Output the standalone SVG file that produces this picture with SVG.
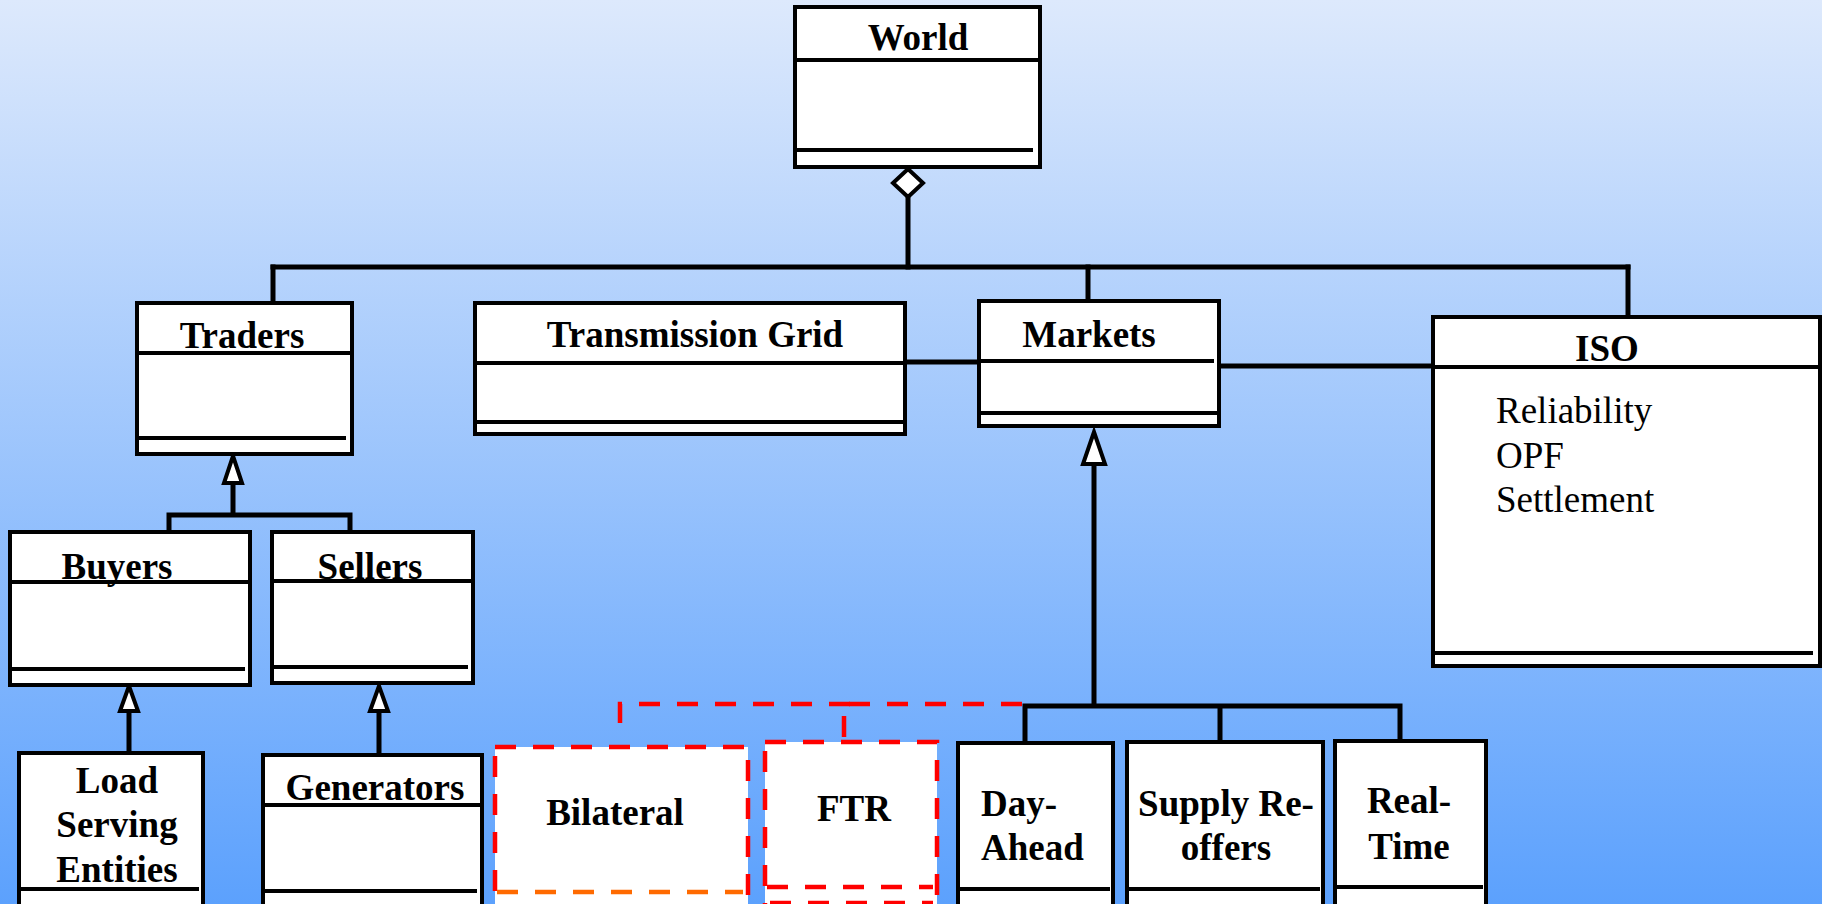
<svg xmlns="http://www.w3.org/2000/svg" width="1822" height="904" viewBox="0 0 1822 904">
  <defs>
    <linearGradient id="bg" x1="0" y1="0" x2="0" y2="1">
      <stop offset="0" stop-color="#dde9fc"/>
      <stop offset="1" stop-color="#5ca1fd"/>
    </linearGradient>
  </defs>
  <style>
    .box { fill: #ffffff; stroke: #000000; stroke-width: 4; }
    .sep { fill: none; stroke: #000000; stroke-width: 4; }
    .dbox { fill: #ffffff; stroke: #ff0000; stroke-width: 4.5; stroke-dasharray: 21 17; }
    .dsep { fill: none; stroke: #ff0000; stroke-width: 4.5; stroke-dasharray: 21 17; }
    .osep { fill: none; stroke: #ff6a00; stroke-width: 4.5; stroke-dasharray: 21 17; }
    .title { font-family: "Liberation Serif", "Times New Roman", serif; font-weight: bold; font-size: 37px; fill: #000000; }
    .attr { font-family: "Liberation Serif", "Times New Roman", serif; font-size: 37px; fill: #000000; }
    .c { text-anchor: middle; }
    .wire { fill: none; stroke: #000000; stroke-width: 5; stroke-linecap: square; }
    .head { fill: #ffffff; stroke: #000000; stroke-width: 4; stroke-linejoin: miter; }
    .rwire { fill: none; stroke: #ff0000; stroke-width: 4.5; stroke-dasharray: 21 17; }
  </style>

  <rect x="0" y="0" width="1822" height="904" fill="url(#bg)"/>

  <!-- connectors -->
  <g id="connectors">
    <!-- aggregation from World -->
    <path class="wire" d="M908,197 V267"/>
    <path class="wire" d="M273,267 H1628"/>
    <path class="wire" d="M273,267 V302"/>
    <path class="wire" d="M1088,267 V300"/>
    <path class="wire" d="M1628,267 V316"/>
    <polygon class="head" points="908,169 923,183 908,197 893,183"/>
    <!-- associations -->
    <path class="wire" d="M905,362 H979"/>
    <path class="wire" d="M1219,366 H1433"/>
    <!-- Traders generalization -->
    <path class="wire" d="M233,483 V515 M169,515 H350 M169,515 V531 M350,515 V531"/>
    <polygon class="head" points="233,456 242,483 224,483"/>
    <!-- Buyers / Sellers generalization -->
    <path class="wire" d="M129,711 V752"/>
    <polygon class="head" points="129,686 138,711 120,711"/>
    <path class="wire" d="M379,711 V754"/>
    <polygon class="head" points="379,686 388,711 370,711"/>
    <!-- Markets generalization -->
    <path class="wire" d="M1094,464 V706 M1025,706 H1400 M1025,706 V742 M1220,706 V741 M1400,706 V740"/>
    <polygon class="head" points="1094,432 1105,464 1083,464"/>
    <!-- optional market links -->
    <path class="rwire" d="M620,723 V704 H850"/>
    <path class="rwire" d="M844,737 V704 H1025"/>
  </g>

  <g id="world">
    <rect class="box" x="795" y="7" width="245" height="160"/>
    <path class="sep" d="M795,60 H1040 M795,150 H1033"/>
    <text class="title c" x="918" y="50">World</text>
  </g>

  <g id="traders">
    <rect class="box" x="137" y="303" width="215" height="151"/>
    <path class="sep" d="M137,353 H352 M137,438 H346"/>
    <text class="title c" x="242" y="348">Traders</text>
  </g>

  <g id="transmission-grid">
    <rect class="box" x="475" y="303" width="430" height="131"/>
    <path class="sep" d="M475,363 H905 M475,422 H905"/>
    <text class="title c" x="695" y="347">Transmission Grid</text>
  </g>

  <g id="markets">
    <rect class="box" x="979" y="301" width="240" height="125"/>
    <path class="sep" d="M979,361 H1214 M979,413 H1219"/>
    <text class="title c" x="1089" y="347">Markets</text>
  </g>

  <g id="iso">
    <rect class="box" x="1433" y="317" width="387" height="349"/>
    <path class="sep" d="M1433,367 H1820 M1433,653 H1813"/>
    <text class="title c" x="1607" y="361">ISO</text>
    <text class="attr" x="1496" y="423">Reliability</text>
    <text class="attr" x="1496" y="468">OPF</text>
    <text class="attr" x="1496" y="512">Settlement</text>
  </g>

  <g id="buyers">
    <rect class="box" x="10" y="532" width="240" height="153"/>
    <path class="sep" d="M10,582 H250 M10,669 H245"/>
    <text class="title c" x="117" y="579">Buyers</text>
  </g>

  <g id="sellers">
    <rect class="box" x="272" y="532" width="201" height="151"/>
    <path class="sep" d="M272,581 H473 M272,667 H468"/>
    <text class="title c" x="370" y="579">Sellers</text>
  </g>

  <g id="load-serving-entities">
    <rect class="box" x="19" y="753" width="184" height="170"/>
    <path class="sep" d="M19,889 H199"/>
    <text class="title c" x="117" y="793">Load</text>
    <text class="title c" x="117" y="837">Serving</text>
    <text class="title c" x="117" y="882">Entities</text>
  </g>

  <g id="generators">
    <rect class="box" x="263" y="755" width="219" height="170"/>
    <path class="sep" d="M263,805 H482 M263,891 H477"/>
    <text class="title c" x="375" y="800">Generators</text>
  </g>

  <g id="bilateral">
    <rect class="dbox" x="495" y="747" width="253" height="180"/>
    <path class="osep" d="M497,892 H743"/>
    <text class="title c" x="615" y="825">Bilateral</text>
  </g>

  <g id="ftr">
    <rect class="dbox" x="765" y="742" width="172" height="185"/>
    <path class="dsep" d="M767,887 H933 M770,903 H933"/>
    <text class="title c" x="854" y="821">FTR</text>
  </g>

  <g id="day-ahead">
    <rect class="box" x="958" y="743" width="155" height="180"/>
    <path class="sep" d="M958,889 H1110"/>
    <text class="title" x="981" y="816">Day-</text>
    <text class="title" x="981" y="860">Ahead</text>
  </g>

  <g id="supply-reoffers">
    <rect class="box" x="1127" y="742" width="196" height="180"/>
    <path class="sep" d="M1127,889 H1320"/>
    <text class="title c" x="1226" y="816">Supply Re-</text>
    <text class="title c" x="1226" y="860">offers</text>
  </g>

  <g id="real-time">
    <rect class="box" x="1335" y="741" width="151" height="180"/>
    <path class="sep" d="M1335,887 H1483"/>
    <text class="title c" x="1409" y="813">Real-</text>
    <text class="title c" x="1409" y="859">Time</text>
  </g>
</svg>
